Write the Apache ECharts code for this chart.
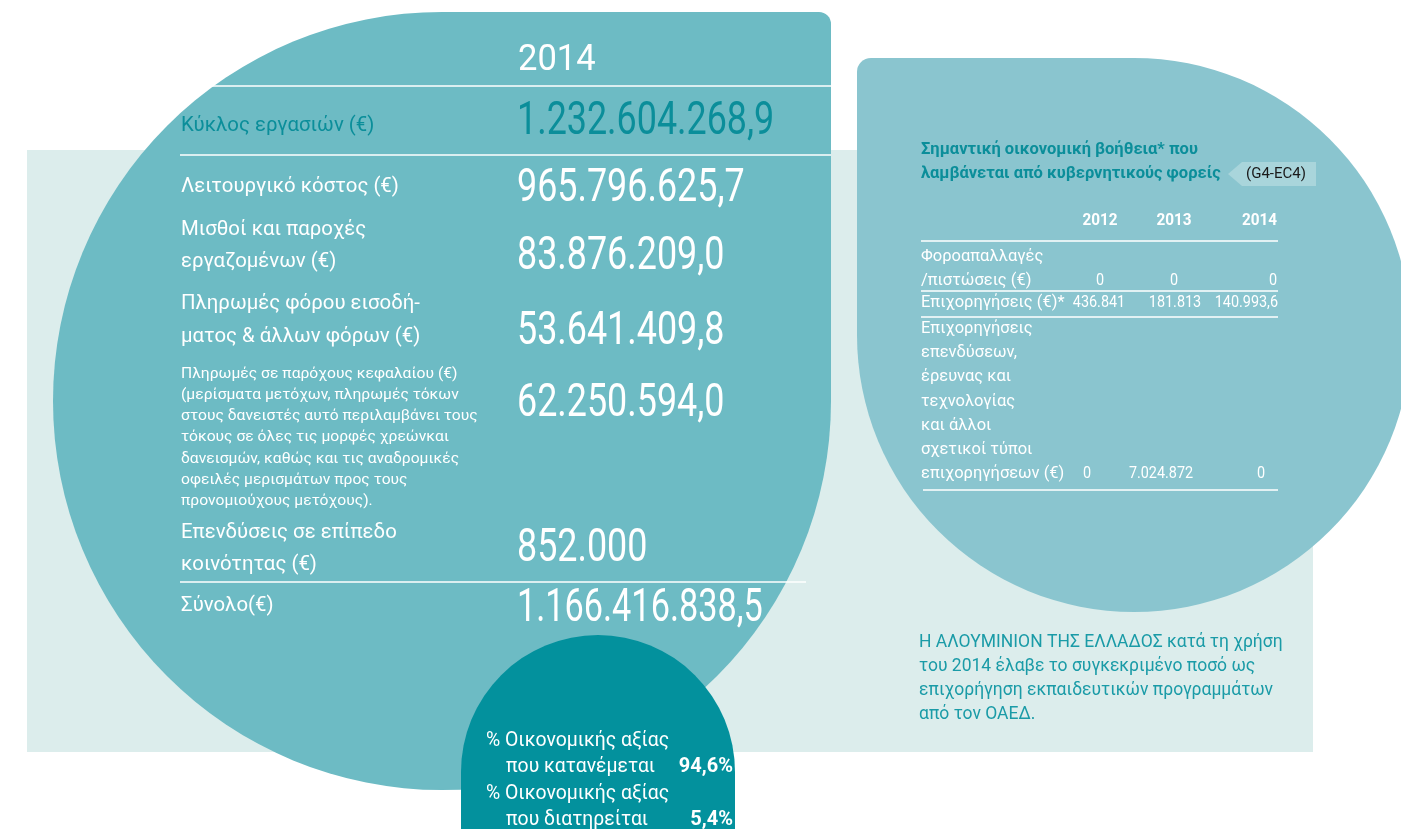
<!DOCTYPE html>
<html>
<head>
<meta charset="utf-8">
<script src="https://cdn.jsdelivr.net/npm/echarts@6/dist/echarts.min.js"></script>
<style>
  html, body { margin: 0; padding: 0; background: #fff; }
  #infoChart { width: 1401px; height: 829px; }
</style>
</head>
<body>
<div id="infoChart"></div>
<script>
// --- data ---
const yearHeader = "2014";
const rowLabels = [
  ["Κύκλος εργασιών (€)"],
  ["Λειτουργικό κόστος (€)"],
  ["Μισθοί και παροχές", "εργαζομένων (€)"],
  ["Πληρωμές φόρου εισοδή-", "ματος & άλλων φόρων (€)"],
  ["Πληρωμές σε παρόχους κεφαλαίου (€)", "(μερίσματα μετόχων, πληρωμές τόκων",
   "στους δανειστές αυτό περιλαμβάνει τους", "τόκους σε όλες τις μορφές χρεώνκαι",
   "δανεισμών, καθώς και τις αναδρομικές", "οφειλές μερισμάτων προς τους",
   "προνομιούχους μετόχους)."],
  ["Επενδύσεις σε επίπεδο", "κοινότητας (€)"],
  ["Σύνολο(€)"]
];
const rowValues = ["1.232.604.268,9", "965.796.625,7", "83.876.209,0", "53.641.409,8",
  "62.250.594,0", "852.000", "1.166.416.838,5"];

const shareLabels = [["% Οικονομικής αξίας", "που κατανέμεται"], ["% Οικονομικής αξίας", "που διατηρείται"]];
const shareValues = ["94,6%", "5,4%"];

const aidTitle = ["Σημαντική οικονομική βοήθεια* που", "λαμβάνεται από κυβερνητικούς φορείς"];
const aidTag = "(G4-EC4)";
const aidYears = ["2012", "2013", "2014"];
const aidLabels = [
  ["Φοροαπαλλαγές", "/πιστώσεις (€)"],
  ["Επιχορηγήσεις (€)*"],
  ["Επιχορηγήσεις", "επενδύσεων,", "έρευνας και", "τεχνολογίας", "και άλλοι", "σχετικοί τύποι", "επιχορηγήσεων (€)"]
];
const aidValues = [
  ["0", "0", "0"],
  ["436.841", "181.813", "140.993,6"],
  ["0", "7.024.872", "0"]
];
const aidNote = ["Η ΑΛΟΥΜΙΝΙΟΝ ΤΗΣ ΕΛΛΑΔΟΣ κατά τη χρήση", "του 2014 έλαβε το συγκεκριμένο ποσό ως",
  "επιχορήγηση εκπαιδευτικών προγραμμάτων", "από τον ΟΑΕΔ."];

// --- layout / styles ---
const FONT = "Roboto, 'Noto Sans', sans-serif";
const WHITE = "#ffffff";
const DARK = "#0b8e9a";

function txt(x, y, s, size, color, o) {
  o = o || {};
  return {
    type: "text", x: x, y: y, z: 20, scaleX: o.sx || 1,
    style: {
      text: s, x: 0, y: 0, fontSize: size, fill: color, fontFamily: FONT,
      fontWeight: o.bold ? "bold" : "normal",
      textAlign: o.align || "left", textVerticalAlign: "middle", verticalAlign: "middle"
    }
  };
}
function hline(x1, x2, y) {
  return { type: "line", z: 15, shape: { x1: x1, y1: y, x2: x2, y2: y }, style: { stroke: WHITE, lineWidth: 1.5 } };
}

const els = [];
// background shapes
els.push({ type: "rect", z: 1, shape: { x: 27, y: 150, width: 1286, height: 602 }, style: { fill: "#dcedec" } });
els.push({ type: "circle", z: 2, shape: { cx: 442, cy: 401, r: 389 }, style: { fill: "#6dbbc4" } });
els.push({ type: "rect", z: 2, shape: { x: 442, y: 12, width: 389, height: 389, r: [0, 12, 0, 0] }, style: { fill: "#6dbbc4" } });
els.push({ type: "circle", z: 2, shape: { cx: 1134, cy: 335, r: 277 }, style: { fill: "#8ac5cf" } });
els.push({ type: "rect", z: 2, shape: { x: 857, y: 58, width: 277, height: 277, r: [14, 0, 0, 0] }, style: { fill: "#8ac5cf" } });
els.push({ type: "circle", z: 5, shape: { cx: 598, cy: 772, r: 137 }, style: { fill: "#03919d" } });
els.push({ type: "rect", z: 5, shape: { x: 461, y: 772, width: 274, height: 70 }, style: { fill: "#03919d" } });

// left table
els.push(txt(518, 61, yearHeader, 36, WHITE, { sx: 0.96 }));
els.push(hline(180, 831, 86));
els.push(hline(180, 831, 155));
els.push(hline(180, 806, 582));
const rowY = [126, 187, 230, 304, 374, 533, 606];
const rowLH = [0, 0, 32, 33, 21.2, 32, 0];
const rowValY = [122, 189, 257, 332, 404, 549, 609];
const rowValSx = [0.78, 0.78, 0.78, 0.78, 0.78, 0.78, 0.745];
rowLabels.forEach(function (lines, i) {
  const small = i === 4;
  const col = i === 0 ? DARK : WHITE;
  lines.forEach(function (l, j) {
    els.push(txt(181, rowY[i] + j * rowLH[i], l, small ? 15.5 : 21, col, { sx: small ? 1.01 : 0.97 }));
  });
  els.push(txt(517, rowValY[i], rowValues[i], 46, col, { sx: rowValSx[i] }));
});

// share circle
const shareY = [741, 794];
shareLabels.forEach(function (lines, i) {
  els.push(txt(486, shareY[i], lines[0], 20, WHITE, { sx: 0.97 }));
  els.push(txt(506, shareY[i] + 26, lines[1], 20, WHITE, { sx: 0.97 }));
  els.push(txt(733, shareY[i] + 26, shareValues[i], 20, WHITE, { sx: 1.0, bold: true, align: "right" }));
});

// right panel
aidTitle.forEach(function (l, j) {
  els.push(txt(921, 150 + j * 24, l, 16.5, DARK, { bold: true, sx: 1.0 }));
});
els.push({ type: "polygon", z: 10, shape: { points: [[1228, 174], [1242, 162], [1316, 162], [1316, 186], [1242, 186]] }, style: { fill: "#a9d5db" } });
els.push(txt(1246, 174, aidTag, 15.5, "#1a1a1a", { sx: 0.97 }));
const colX = [1100, 1174, 1277];
const colAlign = ["center", "center", "right"];
aidYears.forEach(function (y, k) {
  els.push(txt(colX[k], 221, y, 17, WHITE, { bold: true, align: colAlign[k], sx: 0.9 }));
});
els.push(hline(921, 1278, 241));
els.push(hline(921, 1278, 291));
els.push(hline(921, 1278, 317));
els.push(hline(923, 1278, 490));
const aidRowY = [257, 303, 329];
const aidLH = 24.2;
const aidValX = [[1100, 1174, 1277], [1099, 1175, 1278], [1087, 1161, 1265]];
const aidValAlign = [colAlign, ["center", "center", "right"], ["center", "center", "right"]];
aidLabels.forEach(function (lines, i) {
  lines.forEach(function (l, j) {
    els.push(txt(921, aidRowY[i] + j * aidLH, l, 16, WHITE, { sx: 1.03 }));
  });
  const vy = aidRowY[i] + (lines.length - 1) * aidLH;
  aidValues[i].forEach(function (v, k) {
    els.push(txt(aidValX[i][k], vy, v, 16, WHITE, { sx: 0.9, align: aidValAlign[i][k] }));
  });
});
aidNote.forEach(function (l, j) {
  els.push(txt(919, 643 + j * 24, l, 17.5, "#1a9ba7", { sx: 1.0 }));
});

const infoChart = echarts.init(document.getElementById("infoChart"), null, { renderer: "canvas" });
infoChart.setOption({
  backgroundColor: "#ffffff",
  animation: false,
  graphic: { elements: els }
});
window.addEventListener("resize", () => infoChart.resize());
</script>
</body>
</html>
